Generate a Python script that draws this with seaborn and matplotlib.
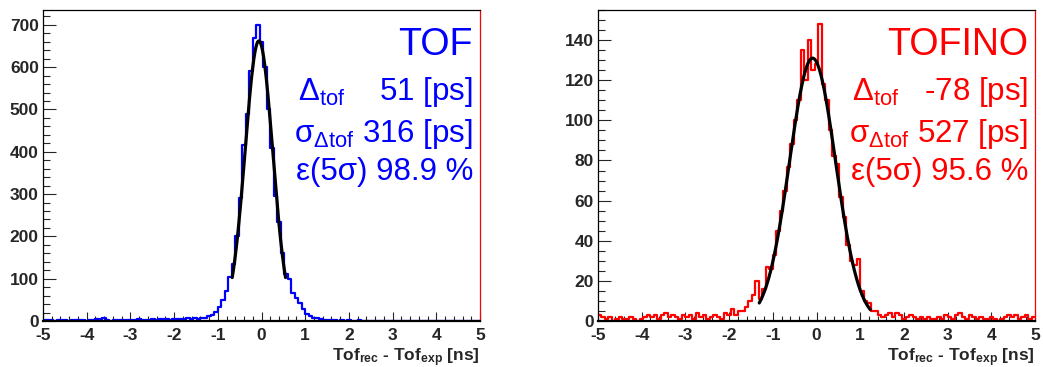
import numpy as np
import pandas as pd
import matplotlib
matplotlib.use("Agg")
import matplotlib.pyplot as plt
import seaborn as sns
from matplotlib.ticker import MultipleLocator

# ---------------- data ----------------
x_min, x_max, n_bins = -5.0, 5.0, 125

tof_tail_left = [2, 3, 2, 1, 2, 3, 2, 1, 2, 3, 2, 2, 1, 2, 3, 4, 5, 6, 2, 1,
                 2, 3, 2, 2, 3, 2, 3, 4, 3, 2, 3, 4, 3, 4, 5, 4, 3, 4, 5, 4,
                 5, 6, 5, 6, 5]
tof_core = [6, 8, 11, 14, 22, 33, 50, 70, 105, 135, 200, 290, 415, 490, 590,
            670, 700, 660, 600, 500, 410, 295, 235, 160, 110, 100, 67, 55, 42,
            28, 16, 12, 8, 6, 4, 3, 2]
tof_tail_right = [2, 2, 1, 2, 1, 2, 1, 1, 2, 1, 1, 0, 1, 1, 0, 1, 0, 1, 1, 0,
                  0, 1, 0, 1, 0, 0, 1, 0, 1, 0, 0, 0, 1, 0, 0, 1, 0, 0, 0, 1,
                  0, 0, 0]

tofino_tail_left = [3, 2, 1, 2, 0, 1, 2, 1, 1, 2, 1, 0, 1, 2, 3, 2, 3, 1, 3, 4,
                    2, 3, 2, 1, 3, 2, 3, 1, 4, 2, 3, 1, 2, 3, 2, 1, 4, 3]
tofino_core = [6, 3, 5, 5, 7, 10, 13, 20, 11, 16, 27, 26, 33, 45, 55, 65, 77,
               88, 100, 110, 135, 120, 140, 125, 128, 148, 118, 110, 95, 82,
               78, 62, 52, 38, 30, 28, 31, 15, 10, 9, 5, 5, 3, 2]
tofino_tail_right = [3, 4, 2, 4, 3, 1, 2, 3, 2, 1, 2, 1, 2, 1, 1, 2, 1, 3, 2, 1,
                     3, 4, 2, 1, 3, 2, 1, 2, 1, 1, 2, 1, 0, 1, 2, 3, 2, 3, 1, 2,
                     3, 1, 2]

tof_counts = tof_tail_left + tof_core + tof_tail_right
tofino_counts = tofino_tail_left + tofino_core + tofino_tail_right

# Gaussian fit parameters (amplitude, mean [ns], sigma [ns], fit range)
tof_fit = dict(amp=662, mean=-0.06, sigma=0.316, lo=-0.67, hi=0.55)
tofino_fit = dict(amp=131, mean=-0.09, sigma=0.527, lo=-1.31, hi=1.23)

panel_titles = ["TOF", "TOFINO"]
delta_values = ["51", "-78"]
sigma_values = ["316", "527"]
eff_values = ["98.9", "95.6"]
y_max = [735, 155]
y_major = [100, 20]
y_minor = [20, 5]
colors = ["#0000FF", "#FF0000"]

# ---------------- style ----------------
sns.set_style("white")
plt.rcParams["font.family"] = ["Liberation Sans", "DejaVu Sans"]
plt.rcParams["axes.unicode_minus"] = False
plt.rcParams["mathtext.fontset"] = "custom"
plt.rcParams["mathtext.rm"] = "Liberation Sans"
plt.rcParams["mathtext.it"] = "Liberation Sans:italic"
plt.rcParams["mathtext.bf"] = "Liberation Sans:bold"

fig = plt.figure(figsize=(10.43, 3.67), dpi=100)
W, H = 1043, 367
ax_l = fig.add_axes([43 / W, (H - 321) / H, 437 / W, 311 / H])
ax_r = fig.add_axes([598 / W, (H - 321) / H, 437 / W, 311 / H])

bin_w = (x_max - x_min) / n_bins
centers = x_min + bin_w * (np.arange(n_bins) + 0.5)

datasets = [tof_counts, tofino_counts]
fits = [tof_fit, tofino_fit]
space_gap = ["    ", "   "]

for k, ax in enumerate([ax_l, ax_r]):
    df = pd.DataFrame({"x": centers, "w": np.asarray(datasets[k], float)})
    sns.histplot(data=df, x="x", weights="w", binwidth=bin_w,
                 binrange=(x_min, x_max), element="step",
                 fill=False, color=colors[k], linewidth=1.6, ax=ax)
    f = fits[k]
    xf = np.linspace(f["lo"], f["hi"], 300)
    yf = f["amp"] * np.exp(-0.5 * ((xf - f["mean"]) / f["sigma"]) ** 2)
    sns.lineplot(x=xf, y=yf, color="black", linewidth=2.3, ax=ax)

    ax.set_xlim(x_min, x_max)
    ax.set_ylim(0, y_max[k])
    ax.set_ylabel("")
    ax.set_xlabel(r"Tof$_{\mathbf{rec}}$ - Tof$_{\mathbf{exp}}$ [ns]",
                  fontsize=12.5, fontweight="bold", loc="right", labelpad=2.5)

    ax.xaxis.set_major_locator(MultipleLocator(1))
    ax.xaxis.set_minor_locator(MultipleLocator(0.2))
    ax.yaxis.set_major_locator(MultipleLocator(y_major[k]))
    ax.yaxis.set_minor_locator(MultipleLocator(y_minor[k]))
    ax.tick_params(axis="x", which="major", direction="in", length=6.5,
                   width=0.8, labelsize=12.5, pad=5, bottom=True, top=False)
    ax.tick_params(axis="x", which="minor", direction="in", length=3.3,
                   width=0.8, bottom=True, top=False)
    ax.tick_params(axis="y", which="major", direction="in", length=9.5,
                   width=0.8, labelsize=12.5, pad=3, left=True, right=False)
    ax.tick_params(axis="y", which="minor", direction="in", length=4.8,
                   width=0.8, left=True, right=False)
    for lab in ax.get_xticklabels() + ax.get_yticklabels():
        lab.set_fontweight("bold")

    for side in ["left", "top", "right", "bottom"]:
        ax.spines[side].set_visible(True)
        ax.spines[side].set_color("black")
        ax.spines[side].set_linewidth(0.9)
    ax.spines["bottom"].set_linewidth(1.6)
    ax.spines["right"].set_color("#FF0000")

    c = colors[k]
    xr = 0.984
    ax.text(xr, 0.855, panel_titles[k], transform=ax.transAxes, ha="right",
            va="baseline", fontsize=27, color=c)
    ax.text(xr, 0.711, r"$\mathrm{Δ}_{\mathrm{tof}}$" + space_gap[k]
            + delta_values[k] + " [ps]", transform=ax.transAxes, ha="right",
            va="baseline", fontsize=22.5, color=c)
    ax.text(xr, 0.577, r"$\mathrm{σ}_{\mathrm{Δtof}}$ " + sigma_values[k]
            + " [ps]", transform=ax.transAxes, ha="right", va="baseline",
            fontsize=22.5, color=c)
    ax.text(xr, 0.453, "ε(5σ) " + eff_values[k] + " %",
            transform=ax.transAxes, ha="right", va="baseline", fontsize=22.5,
            color=c)

fig.savefig("out.png", dpi=100, facecolor="white")
